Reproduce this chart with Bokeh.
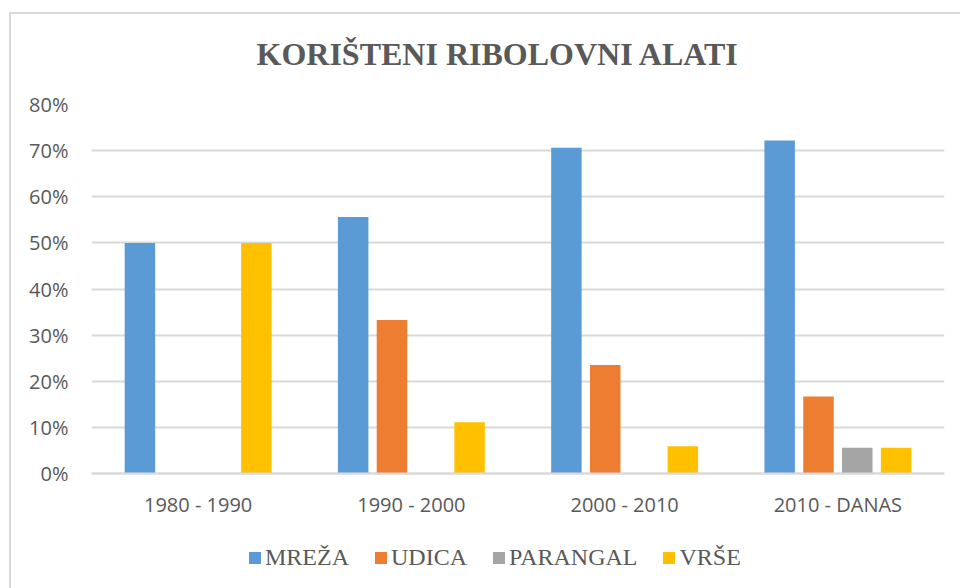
from bokeh.plotting import figure
from bokeh.models import (ColumnDataSource, FactorRange, Legend, LegendItem,
                          NumeralTickFormatter, FixedTicker, InlineStyleSheet)
from bokeh.transform import dodge
from bokeh.embed import file_html
from bokeh.resources import INLINE

# ---- data ----
categories = ["1980 - 1990", "1990 - 2000", "2000 - 2010", "2010 - DANAS"]
series_names = ["MREŽA", "UDICA", "PARANGAL", "VRŠE"]
mreza = [0.500, 0.556, 0.706, 0.722]
udica = [0.000, 0.333, 0.235, 0.167]
parangal = [0.000, 0.000, 0.000, 0.056]
vrse = [0.500, 0.111, 0.059, 0.056]
y_ticks = [0.0, 0.1, 0.2, 0.3, 0.4, 0.5, 0.6, 0.7, 0.8]
title_text = "KORIŠTENI RIBOLOVNI ALATI"

colors = ["#5B9BD5", "#ED7D31", "#A5A5A5", "#FFC000"]

source = ColumnDataSource(dict(cat=categories, MREZA=mreza, UDICA=udica,
                               PARANGAL=parangal, VRSE=vrse))
cols = ["MREZA", "UDICA", "PARANGAL", "VRSE"]

border_css = InlineStyleSheet(css="""
:host::after {
  content: "";
  position: absolute;
  left: 9px; top: 12px; right: 0px; bottom: 0px;
  border-left: 2px solid #d9d9d9;
  border-top: 2px solid #d9d9d9;
  pointer-events: none;
}
""")

# frame spans from the 80% line down to the legend row; 0% sits 108px above its bottom
frame_h = 477
y_top = 0.8
y_bottom = -y_top * 108 / 369

p = figure(x_range=FactorRange(*categories, range_padding=0),
           y_range=(y_bottom, y_top),
           frame_width=853, frame_height=frame_h,
           output_backend="svg", toolbar_location=None,
           min_border_left=91, min_border_right=16, min_border_top=103,
           min_border_bottom=8, stylesheets=[border_css])

p.title.text = title_text
p.title.text_font = "Liberation Serif"
p.title.text_font_size = "32px"
p.title.text_font_style = "bold"
p.title.text_color = "#595959"
p.title.align = "left"
p.title.offset = 165
p.title.standoff = 66

slot = 0.182
offsets = [-1.5 * slot, -0.5 * slot, 0.5 * slot, 1.5 * slot]
renderers = []
for col, off, c in zip(cols, offsets, colors):
    r = p.vbar(x=dodge("cat", off, range=p.x_range), top=col, bottom=0, width=0.143,
               source=source, fill_color=c, line_color=None)
    renderers.append(r)

# axes
p.yaxis.ticker = FixedTicker(ticks=y_ticks)
p.yaxis.formatter = NumeralTickFormatter(format="0%")
p.yaxis.axis_line_color = None
p.yaxis.major_tick_line_color = None
p.yaxis.minor_tick_line_color = None
p.yaxis.major_label_standoff = 17
p.xaxis.fixed_location = 0
p.xaxis.major_tick_line_color = None
p.xaxis.axis_line_color = "#d9d9d9"
p.xaxis.axis_line_width = 2
p.xaxis.major_label_standoff = 11
for ax in (p.xaxis, p.yaxis):
    ax.major_label_text_font = "Open Sans"
    ax.major_label_text_font_size = "20px"
    ax.major_label_text_color = "#595959"

p.xgrid.grid_line_color = None
p.ygrid.grid_line_color = "#d9d9d9"
p.ygrid.grid_line_width = 2
p.outline_line_color = None

items = [LegendItem(label=n, renderers=[r]) for n, r in zip(series_names, renderers)]
legend = Legend(items=items,
                orientation="horizontal", location=(156, 10),
                glyph_width=15, glyph_height=15, label_standoff=3, spacing=24,
                padding=0, margin=0, border_line_color=None,
                background_fill_alpha=0,
                label_text_font="Liberation Serif", label_text_font_size="24px",
                label_text_color="#595959")
p.add_layout(legend, "center")

open("out.html", "w").write(file_html(p, INLINE))
